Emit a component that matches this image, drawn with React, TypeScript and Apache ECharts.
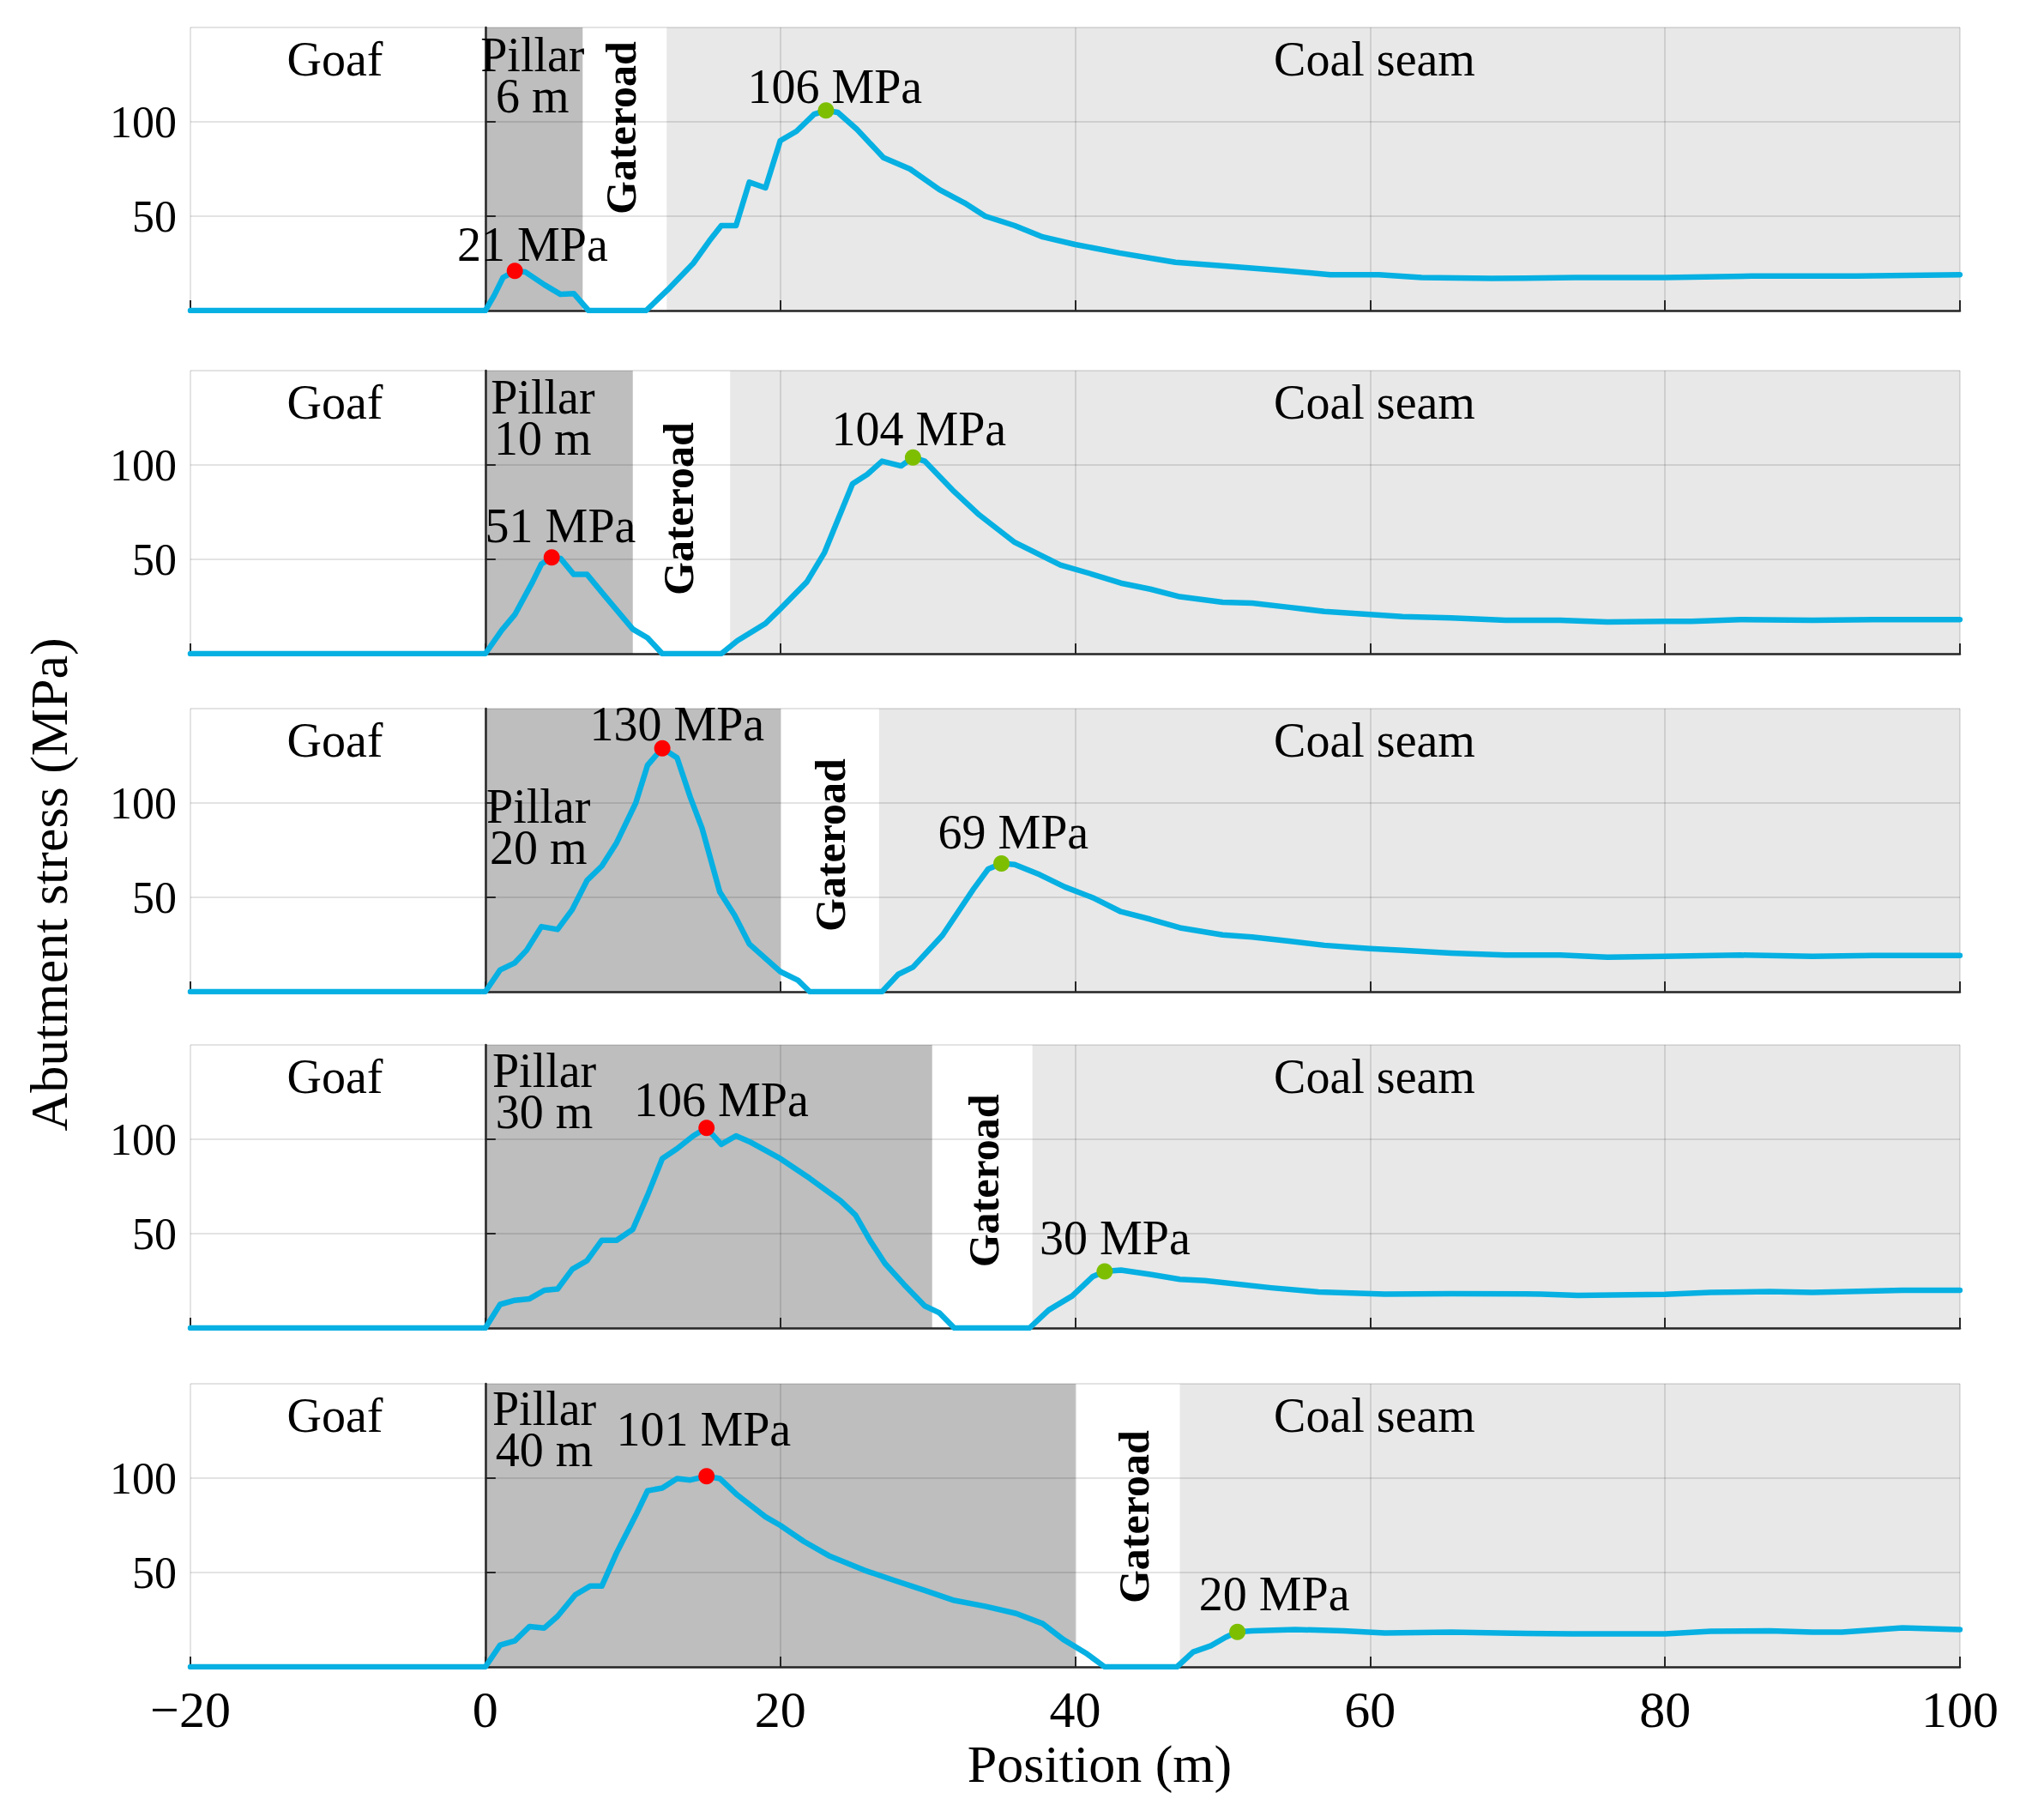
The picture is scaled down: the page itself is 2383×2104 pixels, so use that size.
import React, { useEffect, useRef } from "react";
import * as echarts from "echarts";

const FONT = "Liberation Serif";

// Stress curves (Position m, Abutment stress MPa) for each pillar width
const curvePillar6 = [
  [-20, 0], [0, 0], [0.6, 8], [1.2, 17.5], [2.0, 21], [2.7, 20.5], [4.0, 13.7], [5.1, 8.6], [6.0, 9], [7.0, 0],
  [10.9, 0], [12.5, 12], [14.1, 25], [15.2, 37], [16.0, 45], [17.0, 45], [17.9, 68], [19.0, 65], [20.0, 90],
  [21.1, 95], [22.3, 104], [23.1, 106], [23.9, 105], [25.2, 96], [27.0, 81], [28.8, 75], [30.8, 64], [32.5, 57],
  [33.9, 50], [35.9, 45], [37.8, 39], [40, 35], [43, 30.5], [45.4, 27.4], [46.8, 25.6], [50.1, 23.6], [54, 21.3],
  [57.3, 19], [60.6, 19], [63.5, 17.5], [68.2, 17], [73.9, 17.5], [80, 17.5], [85.9, 18.3], [93, 18.3], [100, 19],
];
const curvePillar10 = [
  [-20, 0], [0, 0], [1.1, 12.3], [2.0, 20.7], [3.2, 38], [3.8, 47.5], [4.5, 51], [5.1, 50.5], [6.0, 42], [6.9, 42],
  [8.1, 30.6], [10.0, 13], [11.0, 8.4], [12.0, 0], [16.0, 0], [17.1, 6.9], [19.0, 16], [20.0, 23.7], [21.8, 38],
  [23.0, 53.6], [24.9, 90], [25.9, 95], [26.9, 102], [28.2, 99.5], [29.0, 104], [29.8, 102], [31.8, 85.8],
  [33.5, 73.5], [35.9, 59], [39, 47], [41, 42.5], [43.1, 37.4], [45.1, 34.2], [47.1, 30.2], [50, 27.3], [52, 26.8],
  [54.5, 24.6], [56.9, 22.4], [60, 20.8], [62.2, 19.7], [65.5, 19], [69.2, 17.7], [72.9, 17.7], [76.1, 16.8],
  [80, 17.2], [81.8, 17.2], [85.1, 18.1], [90, 17.7], [94.1, 18.1], [100, 18.1],
];
const curvePillar20 = [
  [-20, 0], [0, 0], [1.0, 11.5], [2.0, 15.3], [2.8, 22], [3.8, 34.5], [4.9, 33], [5.9, 43.6], [6.9, 59], [7.9, 66.6],
  [8.9, 78.9], [10.2, 100], [11.0, 120], [12.0, 129], [13.0, 124], [13.9, 103], [14.7, 86.5], [15.9, 52.8],
  [16.9, 40.6], [17.9, 25.3], [20.0, 10.7], [21.2, 6.1], [22.0, 0], [26.9, 0], [28.0, 9.2], [29.0, 13], [31.0, 29.9],
  [33.1, 54.4], [34.1, 65], [35.0, 68], [35.9, 67.4], [37.6, 62], [39.3, 55.5], [41.2, 49.8], [43.1, 42.4],
  [45.1, 38.4], [47.1, 33.9], [50, 30.1], [52, 29], [54.5, 26.8], [56.9, 24.6], [60, 22.8], [62.2, 21.9],
  [65.5, 20.5], [69.2, 19.4], [72.9, 19.4], [76.1, 18.3], [80, 18.8], [85.1, 19.4], [90, 18.8], [94.1, 19.2], [100, 19.2],
];
const curvePillar30 = [
  [-20, 0], [0, 0], [1.0, 12.5], [2.0, 14.7], [3.0, 15.5], [4.0, 20], [4.9, 20.7], [5.9, 31.2], [6.9, 35.7],
  [7.9, 46.5], [8.9, 46.5], [10.0, 52.3], [11.0, 70.3], [12.0, 89.8], [13.0, 95], [14.1, 101.8], [15.0, 106],
  [16.0, 97.3], [17.0, 101.8], [17.9, 98.8], [20.0, 89.8], [22.0, 79.3], [24.1, 67.3], [25.1, 59.8], [26.1, 46.2],
  [27.1, 34.2], [28.4, 23], [29.8, 11.7], [30.8, 8], [31.8, 0], [36.9, 0], [38.2, 9.5], [39.8, 17], [41.2, 27.3],
  [42.0, 30], [43.1, 30.7], [45.1, 28.4], [47.1, 25.8], [48.8, 25.1], [53.3, 21.3], [56.5, 19.1], [61, 18],
  [65.5, 18.2], [71.6, 18], [74.1, 17.3], [80, 17.8], [83.1, 18.9], [87.1, 19.3], [90, 18.9], [96.1, 20], [100, 20],
];
const curvePillar40 = [
  [-20, 0], [0, 0], [1.0, 11.5], [2.0, 13.8], [3.0, 21.4], [4.0, 20.6], [4.9, 26.8], [6.1, 38.2], [7.1, 42.8],
  [7.9, 42.8], [8.9, 60.4], [10.2, 80.3], [11.0, 93.3], [12.0, 94.8], [13.0, 99.8], [13.9, 99], [15.0, 101],
  [15.9, 99.8], [17.1, 91], [19.0, 79.5], [20.0, 75], [21.6, 66.5], [23.3, 58.9], [25.7, 51.2], [27.7, 45.9],
  [29.8, 40.5], [31.8, 35.2], [33.9, 32.1], [36.0, 28.3], [37.8, 22.9], [39.2, 14.5], [40.8, 6.9], [42.0, 0],
  [46.9, 0], [48, 7.9], [49.2, 11.2], [50.2, 15.7], [51.0, 18.5], [52, 19.1], [54.9, 19.8], [58.2, 19.1], [61, 18],
  [65.5, 18.4], [69.6, 17.8], [73.7, 17.5], [77.8, 17.5], [80, 17.5], [83.1, 18.9], [87.1, 19.1], [90, 18.4],
  [92, 18.4], [96.1, 20.7], [100, 19.8],
];
const curves = [curvePillar6, curvePillar10, curvePillar20, curvePillar30, curvePillar40];

// Zones (m)
const pillarWidths = [6, 10, 20, 30, 40];
const pillarEnds = [6.6, 10, 20, 30.3, 40];
const coalStarts = [12.3, 16.6, 26.7, 37.1, 47.1];

// Peak points
const peakPillar = [[2.0, 21], [4.5, 51], [12.0, 129], [15.0, 106], [15.0, 101]];
const peakPillarLabels = ["21 MPa", "51 MPa", "130 MPa", "106 MPa", "101 MPa"];
const peakCoal = [[23.1, 106], [29.0, 104], [35.0, 68], [42.0, 30], [51.0, 18.5]];
const peakCoalLabels = ["106 MPa", "104 MPa", "69 MPa", "30 MPa", "20 MPa"];

// Axis ticks
const xTicks = { min: -20, max: 100, step: 20 };
const yTicks = { min: 0, max: 150, step: 50 };

// Label placement (data coordinates)
const goafPos = [-10.2, 133];
const coalSeamPos = [60.3, 133];
const pillarTextPos = [[3.2, 124.5], [3.9, 125], [3.6, 87.5], [4.0, 125.5], [4.0, 125.7]];
const gateroadPos = [[9.2, 96.8], [13.1, 76.8], [23.4, 77.7], [33.8, 78], [44.0, 79.5]];
const pillarPeakTextPos = [[3.2, 35], [5.1, 67.7], [13.0, 141.8], [16.0, 121], [14.8, 126]];
const coalPeakTextPos = [[23.7, 118.6], [29.4, 119], [35.8, 84.5], [42.7, 47.7], [53.5, 38.8]];

const GRID_TOPS = [32, 432, 826, 1218, 1613];
const GRID_H = 330;
const GRID_LEFT = 222;
const GRID_W = 2063;

export default function App() {
  const ref = useRef<HTMLDivElement>(null);
  useEffect(() => {
    document.body.style.margin = "0";
    if (!ref.current) return;
    const chart = echarts.init(ref.current, undefined, { renderer: "svg" });

    const grids = GRID_TOPS.map((t) => ({ left: GRID_LEFT, width: GRID_W, top: t, height: GRID_H }));
    const xAxes = GRID_TOPS.map((_, i) => ({
      gridIndex: i,
      type: "value",
      min: xTicks.min,
      max: xTicks.max,
      interval: xTicks.step,
      z: 2,
      axisLine: { show: true, onZero: false, lineStyle: { color: "#262626", width: 2.5 } },
      axisTick: { show: true, inside: true, length: 12, lineStyle: { color: "#262626", width: 2 } },
      axisLabel: {
        show: i === GRID_TOPS.length - 1,
        margin: 20,
        fontSize: 60,
        fontFamily: FONT,
        color: "#000",
        formatter: (v: number) => (v < 0 ? "\u2212" + Math.abs(v) : String(v)),
      },
      splitLine: { show: true, lineStyle: { color: "rgba(0,0,0,0.15)", width: 1.5 } },
    }));
    const yAxes = GRID_TOPS.map((_, i) => ({
      gridIndex: i,
      type: "value",
      min: yTicks.min,
      max: yTicks.max,
      interval: yTicks.step,
      z: 2,
      axisLine: { show: true, lineStyle: { color: "#262626", width: 2.5 } },
      axisTick: { show: true, inside: true, length: 12, lineStyle: { color: "#262626", width: 2 } },
      axisLabel: {
        show: true,
        showMinLabel: false,
        showMaxLabel: false,
        margin: 16,
        fontSize: 52,
        fontFamily: FONT,
        color: "#000",
      },
      splitLine: { show: true, lineStyle: { color: "rgba(0,0,0,0.15)", width: 1.5 } },
    }));

    const series: any[] = [];
    GRID_TOPS.forEach((_, i) => {
      series.push({
        type: "line",
        xAxisIndex: i,
        yAxisIndex: i,
        data: [],
        silent: true,
        markArea: {
          silent: true,
          label: { show: false },
          data: [
            [{ xAxis: 0, itemStyle: { color: "#bebebe", opacity: 1 } }, { xAxis: pillarEnds[i] }],
            [{ xAxis: coalStarts[i], itemStyle: { color: "#e8e8e8", opacity: 1 } }, { xAxis: xTicks.max }],
          ],
        },
      });
      series.push({
        type: "line",
        xAxisIndex: i,
        yAxisIndex: i,
        data: curves[i],
        symbol: "none",
        showSymbol: false,
        z: 5,
        silent: true,
        lineStyle: { color: "#07b0e2", width: 6.5, join: "round", cap: "round" },
      });
      series.push({
        type: "scatter",
        xAxisIndex: i,
        yAxisIndex: i,
        symbolSize: 19,
        z: 6,
        silent: true,
        data: [
          { value: peakPillar[i], itemStyle: { color: "#ff0000", opacity: 1 } },
          { value: peakCoal[i], itemStyle: { color: "#7dbf00", opacity: 1 } },
        ],
      });
      const txt = (pos: number[], text: string, extra: any = {}) => ({
        value: pos,
        label: { formatter: text, ...extra },
      });
      series.push({
        type: "scatter",
        xAxisIndex: i,
        yAxisIndex: i,
        symbolSize: 1,
        z: 7,
        silent: true,
        itemStyle: { color: "rgba(0,0,0,0)", opacity: 1 },
        label: {
          show: true,
          position: "inside",
          fontFamily: FONT,
          fontSize: 56,
          color: "#000000",
          opacity: 1,
          textBorderWidth: 0,
          lineHeight: 48,
          align: "center",
          verticalAlign: "middle",
        },
        data: [
          txt(goafPos, "Goaf"),
          txt(coalSeamPos, "Coal seam"),
          txt(pillarTextPos[i], "Pillar\n" + pillarWidths[i] + " m"),
          txt(gateroadPos[i], "Gateroad", { rotate: 90, fontWeight: "bold", fontSize: 50 }),
          txt(pillarPeakTextPos[i], peakPillarLabels[i]),
          txt(coalPeakTextPos[i], peakCoalLabels[i]),
        ],
      });
    });

    chart.setOption({
      animation: false,
      backgroundColor: "#ffffff",
      grid: grids,
      xAxis: xAxes,
      yAxis: yAxes,
      series,
      graphic: [
        {
          type: "text",
          x: 57,
          y: 1031,
          rotation: Math.PI / 2,
          style: {
            text: "Abutment stress (MPa)",
            fontFamily: FONT,
            fontSize: 62,
            fill: "#000",
            textAlign: "center",
            textVerticalAlign: "middle",
          },
        },
        {
          type: "text",
          x: 1282,
          y: 2056,
          style: {
            text: "Position (m)",
            fontFamily: FONT,
            fontSize: 62,
            fill: "#000",
            textAlign: "center",
            textVerticalAlign: "middle",
          },
        },
      ],
    });
    return () => chart.dispose();
  }, []);
  return <div ref={ref} style={{ width: 2383, height: 2104 }} />;
}
